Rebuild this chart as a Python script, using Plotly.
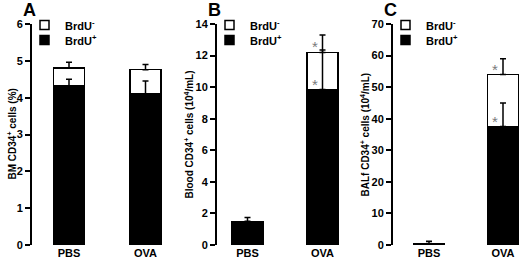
import plotly.graph_objects as go

W, H = 520, 260

categories = ["PBS", "OVA"]
legend_labels = ["<b>BrdU<sup>-</sup></b>", "<b>BrdU<sup>+</sup></b>"]
legend_fills = ["white", "black"]

# Panel A: BM CD34+ cells (%)
a_pos = [4.32, 4.10]
a_pos_err = [0.18, 0.35]
a_neg = [0.49, 0.66]
a_tot_err = [0.15, 0.14]

# Panel B: Blood CD34+ cells (10^4/mL)
b_pos = [1.50, 9.85]
b_pos_err = [0.25, 2.50]
b_neg = [0.0, 2.35]
b_tot_err = [None, 1.10]

# Panel C: BALf CD34+ cells (10^4/mL)
c_pos = [0.5, 37.5]
c_pos_err = [0.7, 7.5]
c_neg = [0.0, 16.5]
c_tot_err = [None, 5.0]

# significance markers per category
a_sig = [False, False]
b_sig = [False, True]
c_sig = [False, True]

y_titles = [
    "<b>BM CD34<sup>+</sup> cells (%)</b>",
    "<b>Blood CD34<sup>+</sup> cells (10<sup>4</sup>/mL)</b>",
    "<b>BALf CD34<sup>+</sup> cells (10<sup>4</sup>/mL)</b>",
]
panel_letters = ["A", "B", "C"]
y_max = [6, 14, 70]
y_dtick = [1, 2, 10]

FONT = "Liberation Sans, Arial, sans-serif"

# pixel layout: axis x, PBS center, OVA center, right edge
panels_px = [
    (32, 69, 145.5, 176),
    (217, 247.5, 322.5, 352),
    (393, 429, 503, 520),
]
bar_px = 31
y_bot_px, y_top_px = 245, 24

fig = go.Figure()

data = [
    (a_pos, a_pos_err, a_neg, a_tot_err, a_sig),
    (b_pos, b_pos_err, b_neg, b_tot_err, b_sig),
    (c_pos, c_pos_err, c_neg, c_tot_err, c_sig),
]

layout = dict(
    template="none",
    width=W, height=H, margin=dict(l=0, r=0, t=0, b=0, autoexpand=False),
    paper_bgcolor="white", plot_bgcolor="white",
    barmode="stack", showlegend=False,
    font=dict(family=FONT, size=11, color="black"),
)
annotations = []
shapes = []

for i, (pos, pos_err, neg, tot_err, sig) in enumerate(data):
    ax_px, c0, c1, right = panels_px[i]
    unit = c1 - c0
    x0 = (ax_px - c0) / unit
    x1 = (right - c0) / unit
    width = bar_px / unit
    sfx = "" if i == 0 else str(i + 1)
    xa, ya = "x" + sfx, "y" + sfx
    xs = [0, 1]
    tot = [p + n for p, n in zip(pos, neg)]

    fig.add_trace(go.Bar(
        x=xs, y=pos, width=width, name="BrdU+",
        marker=dict(color="black", line=dict(color="black", width=1.5)),
        xaxis=xa, yaxis=ya, hoverinfo="skip",
    ))
    fig.add_trace(go.Bar(
        x=xs, y=neg, width=width, name="BrdU-",
        marker=dict(color="white", line=dict(color="black", width=1.5)),
        xaxis=xa, yaxis=ya, hoverinfo="skip",
    ))
    # error bars drawn above the bars
    fig.add_trace(go.Scatter(
        x=xs, y=pos, mode="markers", marker=dict(size=1, color="rgba(0,0,0,0)"),
        error_y=dict(type="data", array=pos_err, arrayminus=[0, 0], symmetric=False,
                     color="black", thickness=1.5, width=3),
        xaxis=xa, yaxis=ya, hoverinfo="skip",
    ))
    te_x = [x for x, e in zip(xs, tot_err) if e is not None]
    te_y = [t for t, e in zip(tot, tot_err) if e is not None]
    te_e = [e for e in tot_err if e is not None]
    fig.add_trace(go.Scatter(
        x=te_x, y=te_y, mode="markers", marker=dict(size=1, color="rgba(0,0,0,0)"),
        error_y=dict(type="data", array=te_e, arrayminus=[0] * len(te_e), symmetric=False,
                     color="black", thickness=1.5, width=3),
        xaxis=xa, yaxis=ya, hoverinfo="skip",
    ))

    for j, s in enumerate(sig):
        if s:
            for yy in (pos[j], tot[j]):
                annotations.append(dict(
                    x=xs[j], y=yy, xref=xa, yref=ya, text="*", showarrow=False,
                    xanchor="center", yanchor="bottom", xshift=-8, yshift=-5,
                    font=dict(size=15, color="#7a7a7a", family=FONT),
                ))

    dom_x = [ax_px / W, right / W]
    dom_y = [(H - y_bot_px) / H, (H - y_top_px) / H]
    layout["xaxis" + sfx] = dict(
        domain=dom_x, range=[x0, x1], tickmode="array", tickvals=xs,
        ticktext=["<b>%s</b>" % c for c in categories], showline=False,
        showgrid=False, zeroline=False, ticks="", tickfont=dict(size=11, family=FONT),
        anchor=ya, fixedrange=True, automargin=False,
    )
    layout["yaxis" + sfx] = dict(
        domain=dom_y, range=[0, y_max[i]], dtick=y_dtick[i], tick0=0,
        showline=True, linecolor="black", linewidth=2, ticks="outside",
        ticklen=5, tickwidth=1.5, tickcolor="black", showgrid=False, zeroline=False,
        tickfont=dict(size=11, family=FONT), tickprefix="<b>", ticksuffix="</b>",
        anchor=xa, fixedrange=True, automargin=False,
    )
    # legend (manual): boxes and labels
    for k in range(2):
        cy = 25 + 15 * k
        bx = ax_px + 8
        shapes.append(dict(
            type="rect", xref="paper", yref="paper",
            x0=bx / W, x1=(bx + 9) / W, y0=(H - (cy + 4.5)) / H, y1=(H - (cy - 4.5)) / H,
            fillcolor=legend_fills[k], line=dict(color="black", width=1.5),
        ))
        annotations.append(dict(
            x=(bx + 23) / W, y=(H - cy) / H, xref="paper", yref="paper",
            text=legend_labels[k], showarrow=False, xanchor="left", yanchor="middle",
            font=dict(size=11, family=FONT),
        ))
    annotations.append(dict(
        x=(ax_px - 3) / W, y=(H - 10) / H, xref="paper", yref="paper",
        text="<b>%s</b>" % panel_letters[i], showarrow=False,
        xanchor="center", yanchor="middle", font=dict(size=18, family=FONT),
    ))
    title_x = ax_px - (20 if i == 0 else 28)
    annotations.append(dict(
        x=title_x / W, y=(H - (y_top_px + y_bot_px) / 2) / H, xref="paper", yref="paper",
        text=y_titles[i], showarrow=False, textangle=-90,
        xanchor="center", yanchor="middle", font=dict(size=10, family=FONT),
    ))

layout["annotations"] = annotations
layout["shapes"] = shapes
fig.update_layout(**layout)
fig.write_html(
    "out.html",
    config={"displayModeBar": False},
    post_script="document.body.style.margin='0';document.body.style.overflow='hidden';",
)
